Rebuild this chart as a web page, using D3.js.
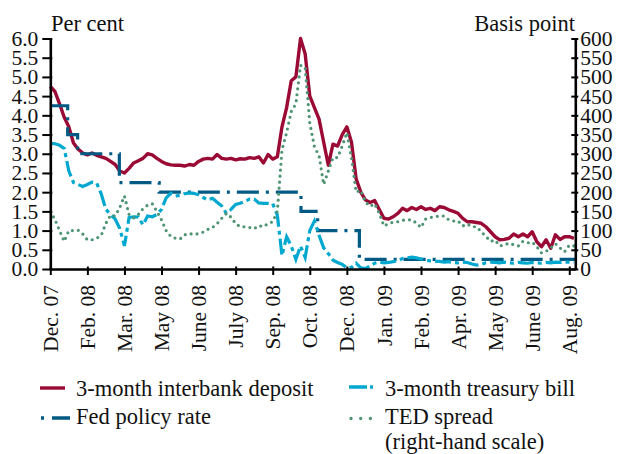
<!DOCTYPE html>
<html>
<head>
<meta charset="utf-8">
<script src="https://cdn.jsdelivr.net/npm/d3@7"></script>
<style>
  html, body { margin: 0; padding: 0; background: #fff; }
  svg { display: block; }
  svg text { font-family: "Liberation Serif", "Tinos", "Times New Roman", "DejaVu Serif", "Noto Serif", "FreeSerif", serif; }
  .axis path, .axis line { stroke: #000; }
  .axis text { font-size: 21.5px; fill: #111; }
</style>
</head>
<body>
<script>
// Observations are sampled every 1/8 of a tick interval (ticks every 8 samples)
const tickLabels = ["Dec. 07", "Feb. 08", "Mar. 08", "May 08", "June 08", "July 08", "Sep. 08",
    "Oct. 08", "Dec. 08", "Jan. 09", "Feb. 09", "Apr. 09", "May 09", "June 09", "Aug. 09"];

// 3-month interbank deposit, per cent
const interbank = [
    4.75, 4.62, 4.30, 3.95, 3.70, 3.28, 3.12, 3.02, 2.97, 3.02,
    2.96, 2.92, 2.88, 2.80, 2.72, 2.55, 2.50, 2.62, 2.76, 2.82,
    2.88, 3.00, 2.97, 2.88, 2.80, 2.74, 2.71, 2.70, 2.70, 2.68,
    2.72, 2.70, 2.80, 2.86, 2.88, 2.86, 2.98, 2.88, 2.86, 2.88,
    2.84, 2.87, 2.86, 2.90, 2.88, 2.92, 2.76, 2.98, 2.86, 2.92,
    3.70, 4.20, 4.90, 5.00, 6.00, 5.60, 4.50, 4.20, 3.90, 3.30,
    2.70, 3.25, 3.20, 3.50, 3.70, 3.30, 2.35, 2.00, 1.80, 1.73,
    1.78, 1.55, 1.32, 1.30, 1.36, 1.45, 1.58, 1.52, 1.60, 1.55,
    1.62, 1.55, 1.58, 1.52, 1.62, 1.60, 1.54, 1.50, 1.45, 1.32,
    1.23, 1.23, 1.21, 1.19, 1.10, 0.97, 0.84, 0.76, 0.77, 0.80,
    0.91, 0.84, 0.91, 0.84, 0.97, 0.71, 0.58, 0.76, 0.54, 0.89,
    0.77, 0.84, 0.84, 0.80
];

// 3-month treasury bill, per cent
const treasury = [
    3.27, 3.26, 3.22, 3.14, 2.55, 2.25, 2.20, 2.15, 2.20, 2.26,
    2.24, 1.95, 1.55, 1.42, 1.30, 1.05, 0.60, 1.34, 1.36, 1.35,
    1.15, 1.38, 1.36, 1.42, 1.55, 1.85, 1.97, 1.90, 1.92, 1.96,
    1.98, 1.97, 1.93, 1.86, 1.80, 1.84, 1.74, 1.64, 1.45, 1.55,
    1.68, 1.71, 1.76, 1.82, 1.82, 1.72, 1.71, 1.71, 1.70, 1.40,
    0.35, 0.84, 0.60, 0.25, 0.60, 0.30, 1.00, 1.25, 0.88, 0.55,
    0.40, 0.23, 0.17, 0.12, 0.03, 0.04, 0.15, 0.03, 0.01, 0.08,
    0.15, 0.18, 0.16, 0.17, 0.19, 0.22, 0.27, 0.29, 0.31, 0.29,
    0.26, 0.23, 0.21, 0.20, 0.20, 0.18, 0.19, 0.17, 0.16, 0.18,
    0.17, 0.13, 0.10, 0.12, 0.16, 0.18, 0.17, 0.16, 0.18, 0.16,
    0.15, 0.17, 0.16, 0.15, 0.17, 0.16, 0.15, 0.17, 0.16, 0.18,
    0.17, 0.18, 0.18, 0.18
];

// TED spread, basis points (right-hand scale)
const tedSpread = [
    149, 129, 100, 72, 100, 100, 101, 91, 76, 76,
    80, 88, 119, 140, 138, 160, 190, 142, 133, 142,
    157, 166, 170, 150, 128, 100, 85, 80, 78, 89,
    92, 90, 92, 96, 103, 108, 118, 132, 145, 135,
    118, 110, 110, 108, 105, 113, 110, 118, 123, 150,
    310, 355, 410, 430, 530, 525, 380, 318, 295, 220,
    255, 290, 290, 320, 355, 290, 200, 205, 175, 163,
    170, 145, 112, 118, 122, 123, 127, 128, 128, 120,
    108, 130, 134, 136, 138, 138, 128, 125, 125, 112,
    117, 110, 110, 97, 85, 72, 75, 60, 63, 67,
    63, 60, 72, 68, 70, 58, 42, 46, 55, 66,
    55, 45, 62, 60
];

// Fed policy rate: sample position of each change and the new rate
const fedChangeAt = [0, 3.75, 5.9, 14.9, 23.5, 54.1, 57.7, 66.7, 113.3];
const fedRate = [4.25, 3.5, 3.0, 2.25, 2.0, 1.5, 1.0, 0.25, 0.25];

const COLORS = {
    interbank: "#9b0a35",
    treasury: "#00a8cf",
    fed: "#005a84",
    ted: "#4e9473"
};

const W = 624, H = 454;
const svg = d3.select("body").append("svg")
    .attr("width", W)
    .attr("height", H)
    .attr("viewBox", `0 0 ${W} ${H}`);

svg.append("rect").attr("width", W).attr("height", H).attr("fill", "#fff");

const x = d3.scaleLinear().domain([0, 113.3]).range([50.3, 575.3]);
const y = d3.scaleLinear().domain([0, 6]).range([269, 38.5]);
const yRight = d3.scaleLinear().domain([0, 600]).range([269, 38.5]);

const lineLeft = d3.line().x((d, i) => x(i)).y(d => y(d));
const lineRight = d3.line().x((d, i) => x(i)).y(d => yRight(d));
const fedLine = d3.line()
    .x(d => x(d[0]))
    .y(d => y(d[1]))
    .curve(d3.curveStepAfter);

// series
const plot = svg.append("g");

plot.append("path")
    .datum(interbank)
    .attr("d", lineLeft)
    .attr("fill", "none")
    .attr("stroke", COLORS.interbank)
    .attr("stroke-width", 3.4)
    .attr("stroke-linejoin", "round");

plot.append("path")
    .datum(d3.zip(fedChangeAt, fedRate))
    .attr("d", fedLine)
    .attr("fill", "none")
    .attr("stroke", COLORS.fed)
    .attr("stroke-width", 3.2)
    .attr("stroke-dasharray", "22 7 3 7");

plot.append("path")
    .datum(treasury)
    .attr("d", lineLeft)
    .attr("fill", "none")
    .attr("stroke", COLORS.treasury)
    .attr("stroke-width", 3.2)
    .attr("stroke-dasharray", "16 4 4 4");

plot.append("path")
    .datum(tedSpread)
    .attr("d", lineRight)
    .attr("fill", "none")
    .attr("stroke", COLORS.ted)
    .attr("stroke-width", 3.2)
    .attr("stroke-linecap", "round")
    .attr("stroke-dasharray", "0 6");

// axes
const bottomAxis = svg.append("g")
    .attr("class", "axis")
    .attr("transform", `translate(0,${y(0)})`)
    .call(d3.axisBottom(x)
        .tickValues(d3.range(0, tickLabels.length * 8, 8))
        .tickFormat((d, i) => tickLabels[i])
        .tickSize(6)
        .tickSizeOuter(0));
bottomAxis.selectAll(".tick line").attr("y1", -2.5).attr("stroke-width", 2);
bottomAxis.selectAll(".tick text")
    .attr("transform", "rotate(-90)")
    .attr("text-anchor", "end")
    .attr("x", -16)
    .attr("y", 0)
    .attr("dy", "0.33em");

const leftAxis = svg.append("g")
    .attr("class", "axis")
    .attr("transform", `translate(${x(0)},0)`)
    .call(d3.axisLeft(y)
        .tickValues(d3.range(0, 6.01, 0.5))
        .tickFormat(d3.format(".1f"))
        .tickSize(8)
        .tickPadding(4)
        .tickSizeOuter(0));
leftAxis.selectAll(".tick line").attr("x1", 2).attr("stroke-width", 2);

const rightAxis = svg.append("g")
    .attr("class", "axis")
    .attr("transform", `translate(${x(113.3)},0)`)
    .call(d3.axisRight(yRight)
        .tickValues(d3.range(0, 601, 50))
        .tickSize(3)
        .tickPadding(2)
        .tickSizeOuter(0));
rightAxis.selectAll(".tick line").attr("x1", -4).attr("stroke-width", 2);

svg.selectAll(".axis").attr("font-family", null);
svg.selectAll(".axis .domain").attr("stroke-width", 2.6);

// axis titles
svg.append("text")
    .attr("x", 51).attr("y", 31)
    .attr("font-size", 22.5)
    .attr("fill", "#111")
    .text("Per cent");

svg.append("text")
    .attr("x", 575).attr("y", 31)
    .attr("text-anchor", "end")
    .attr("font-size", 22.5)
    .attr("fill", "#111")
    .text("Basis point");

// legend
const legend = svg.append("g").attr("font-size", 22.5).attr("fill", "#111");

function legendText(tx, ty, lines) {
    const t = legend.append("text").attr("x", tx).attr("y", ty);
    lines.forEach((s, i) => {
        t.append("tspan").attr("x", tx).attr("dy", i === 0 ? 0 : 25).text(s);
    });
}

function legendSample(x1, x2, ly, color, dash, cap) {
    legend.append("line")
        .attr("x1", x1).attr("x2", x2)
        .attr("y1", ly).attr("y2", ly)
        .attr("stroke", color)
        .attr("stroke-width", 3.4)
        .attr("stroke-dasharray", dash)
        .attr("stroke-linecap", cap);
}

legendSample(40, 65, 388, COLORS.interbank, null, "butt");
legendText(76, 396, ["3-month interbank deposit"]);

legendSample(41, 70, 418, COLORS.fed, "3 8 18", "butt");
legendText(76, 424, ["Fed policy rate"]);

legendSample(349, 373, 387, COLORS.treasury, "18 3 3", "butt");
legendText(385, 396, ["3-month treasury bill"]);

legendSample(351, 371, 418.5, COLORS.ted, "0 9.7", "round");
legendText(385, 424, ["TED spread", "(right-hand scale)"]);
</script>
</body>
</html>
